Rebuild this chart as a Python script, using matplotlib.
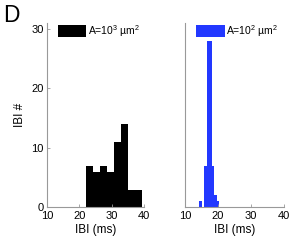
import matplotlib
matplotlib.use("Agg")
import matplotlib.pyplot as plt
from matplotlib.patches import Patch

plt.rcParams['font.family'] = ['Liberation Sans', 'DejaVu Sans']
plt.rcParams['mathtext.fontset'] = 'custom'
plt.rcParams['mathtext.rm'] = 'Liberation Sans'

# histogram data (IBI in ms)
large_edges = [22.1, 24.3, 26.5, 28.6, 30.8, 33.0, 35.2, 37.4, 39.5]
large_counts = [7, 6, 7, 6, 11, 14, 3, 3]
small_edges = [14.35, 15.1, 15.85, 16.6, 17.35, 18.1, 18.85, 19.6, 20.35]
small_counts = [1, 0, 7, 28, 28, 7, 2, 1]

x_ticks = [10, 20, 30, 40]
y_ticks = [0, 10, 20, 30]
labels = [r'A=10$^{3}$ µm$^{2}$', r'A=10$^{2}$ µm$^{2}$']
colors = ['black', '#2238ff']
axis_gray = '#999999'

fig = plt.figure(figsize=(2.92, 2.42), dpi=100)
ax1 = fig.add_axes([0.161, 0.143, 0.332, 0.763])
ax2 = fig.add_axes([0.634, 0.143, 0.338, 0.763])

panels = [(ax1, large_edges, large_counts), (ax2, small_edges, small_counts)]
for i, (ax, edges, counts) in enumerate(panels):
    widths = [b - a for a, b in zip(edges[:-1], edges[1:])]
    ax.bar(edges[:-1], counts, width=widths, align='edge',
           color=colors[i], linewidth=0)
    ax.set_xlim(10, 40)
    ax.set_ylim(0, 31)
    ax.set_xticks(x_ticks)
    ax.set_xlabel('IBI (ms)', fontsize=8.5, labelpad=2)
    for s in ['top', 'right']:
        ax.spines[s].set_visible(False)
    for s in ['left', 'bottom']:
        ax.spines[s].set_color(axis_gray)
        ax.spines[s].set_linewidth(0.8)
    ax.tick_params(direction='in', length=2.5, width=0.6, color=axis_gray,
                   labelsize=8, pad=2.5)
    ax.legend(handles=[Patch(facecolor=colors[i], edgecolor='none')],
              labels=[labels[i]], loc='upper left',
              bbox_to_anchor=(0.115, 1.0), frameon=False,
              borderpad=0, borderaxespad=0, handlelength=2.7,
              handleheight=1.45, handletextpad=0.15, fontsize=7.5)

ax1.set_yticks(y_ticks)
ax1.set_ylabel('IBI #', fontsize=8.5, labelpad=4)
ax2.set_yticks([])

fig.text(0.01, 0.985, 'D', fontsize=16.5, va='top', ha='left')

fig.savefig('out.png', dpi=100)
